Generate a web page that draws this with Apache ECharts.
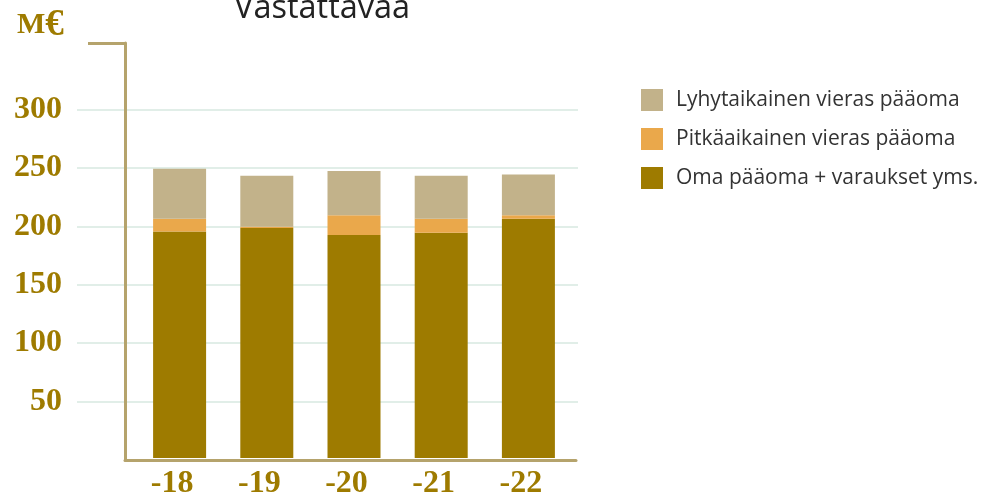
<!DOCTYPE html>
<html>
<head>
<meta charset="utf-8">
<script src="https://cdn.jsdelivr.net/npm/echarts@6/dist/echarts.min.js"></script>
<style>
  html, body { margin: 0; padding: 0; background: #fff; }
  #chart { width: 983px; height: 500px; }
</style>
</head>
<body>
<div id="chart"></div>
<script>
// data
const years = ["-18", "-19", "-20", "-21", "-22"];
const omaPaaoma = [195, 198, 192, 194, 206];
const pitkaVieras = [11, 1, 17, 12, 3];
const lyhytVieras = [43, 44, 38, 37, 35];
const seriesNames = ["Oma pääoma + varaukset yms.", "Pitkäaikainen vieras pääoma", "Lyhytaikainen vieras pääoma"];
const yMax = 300;
const yStep = 50;
const axisTop = 357; // where the drawn y axis line stops

const gold = "#9e7b00";
const axisColor = "#b5a36c";
const labelFont = { fontFamily: "Liberation Serif", fontWeight: "bold", fontSize: 32, color: gold };

const chart = echarts.init(document.getElementById("chart"));
chart.setOption({
  animation: false,
  title: [
    {
      text: "Vastattavaa",
      left: 234,
      top: -8,
      padding: 0,
      textStyle: { fontFamily: "Open Sans", fontWeight: "normal", fontSize: 32.5, color: "#222" },
    },
    {
      text: "{m|M}{e|€}",
      left: 17,
      top: 7,
      padding: 0,
      textStyle: {
        rich: {
          m: { fontFamily: "Liberation Serif", fontWeight: "bold", fontSize: 30, color: gold },
          e: { fontFamily: "Liberation Serif", fontWeight: "bold", fontSize: 37, color: gold },
        },
      },
    },
  ],
  legend: {
    orient: "vertical",
    left: 641,
    top: 89,
    padding: 0,
    itemWidth: 22,
    itemHeight: 22,
    itemGap: 17,
    icon: "rect",
    data: [seriesNames[2], seriesNames[1], seriesNames[0]],
    textStyle: { fontFamily: "Open Sans", fontSize: 21, color: "#333", padding: [0, 0, 0, 8] },
  },
  grid: [
    // gridlines + y labels
    { left: 77, right: 405, top: 109.5, bottom: 40 },
    // axis frame
    { left: 125, right: 407, top: 43, bottom: 40 },
    // bars
    { left: 136, right: 411, top: 109.5, bottom: 40 },
  ],
  xAxis: [
    { gridIndex: 0, type: "category", data: years, show: false },
    {
      gridIndex: 1,
      type: "category",
      data: years,
      axisLine: { lineStyle: { color: axisColor, width: 3 } },
      axisTick: { show: false },
      axisLabel: { show: false },
    },
    {
      gridIndex: 2,
      type: "category",
      data: years,
      axisLine: { show: false },
      axisTick: { show: false },
      axisLabel: { ...labelFont, margin: 10, padding: [0, 15, 0, 0] },
    },
  ],
  yAxis: [
    {
      gridIndex: 0,
      type: "value",
      min: 0,
      max: yMax,
      interval: yStep,
      axisLine: { show: false },
      axisTick: { show: false },
      axisLabel: {
        ...labelFont,
        margin: 15,
        formatter: (v) => (v === 0 ? "" : String(v)),
      },
      splitLine: { showMinLine: false, lineStyle: { color: "#d7e9e1", width: 1.5 } },
    },
    {
      gridIndex: 1,
      type: "value",
      min: 0,
      max: axisTop,
      axisLine: { show: true, lineStyle: { color: axisColor, width: 3 } },
      axisTick: { show: true, customValues: [axisTop], length: 37, lineStyle: { color: axisColor, width: 3 } },
      axisLabel: { show: false },
      splitLine: { show: false },
    },
    { gridIndex: 2, type: "value", min: 0, max: yMax, show: false, splitLine: { show: false } },
  ],
  series: [
    {
      name: seriesNames[0],
      type: "bar",
      stack: "total",
      xAxisIndex: 2,
      yAxisIndex: 2,
      barWidth: 53,
      itemStyle: { color: gold },
      data: omaPaaoma,
    },
    {
      name: seriesNames[1],
      type: "bar",
      stack: "total",
      xAxisIndex: 2,
      yAxisIndex: 2,
      barWidth: 53,
      itemStyle: { color: "#eaa84b" },
      data: pitkaVieras,
    },
    {
      name: seriesNames[2],
      type: "bar",
      stack: "total",
      xAxisIndex: 2,
      yAxisIndex: 2,
      barWidth: 53,
      itemStyle: { color: "#c2b28a" },
      data: lyhytVieras,
    },
  ],
});
</script>
</body>
</html>
